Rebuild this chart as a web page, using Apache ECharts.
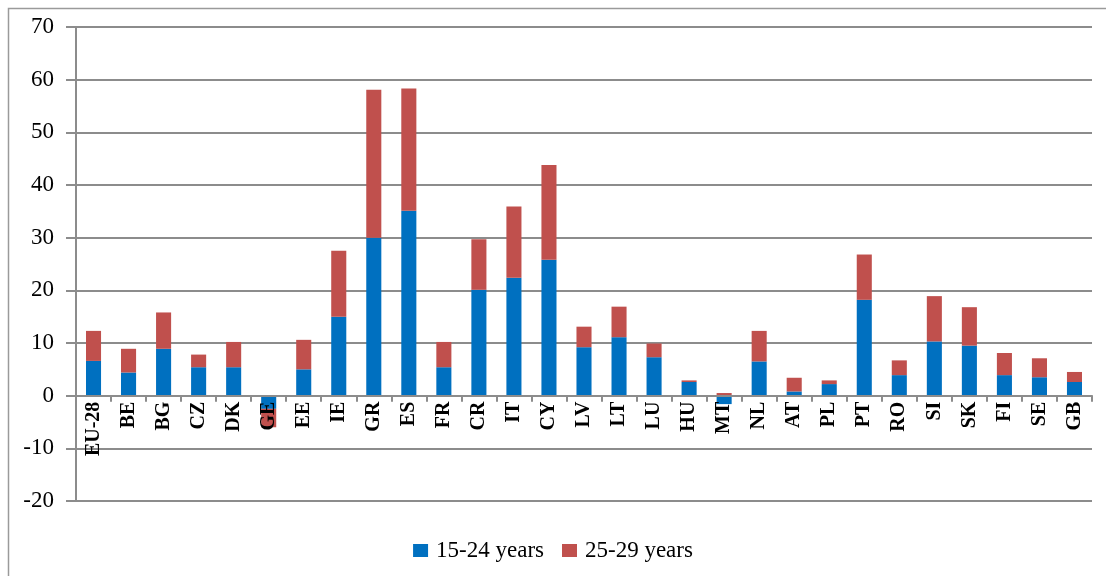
<!DOCTYPE html>
<html>
<head>
<meta charset="utf-8">
<script src="https://cdn.jsdelivr.net/npm/echarts@6/dist/echarts.min.js"></script>
<style>
html,body{margin:0;padding:0;background:#fff;}
#chart{width:1106px;height:576px;}
</style>
</head>
<body>
<div id="chart"></div>
<script>
const categories = ['EU-28','BE','BG','CZ','DK','GE','EE','IE','GR','ES','FR','CR','IT','CY','LV','LT','LU','HU','MT','NL','AT','PL','PT','RO','SI','SK','FI','SE','GB'];
const years15to24 = [6.6,4.4,8.9,5.4,5.4,-2.5,5.0,15.0,30.0,35.1,5.4,20.1,22.4,25.8,9.2,11.1,7.3,2.6,-1.6,6.5,0.8,2.2,18.2,3.9,10.3,9.5,3.9,3.5,2.6];
const years25to29 = [5.7,4.5,6.9,2.4,4.8,-3.5,5.6,12.5,28.1,23.2,4.8,9.6,13.5,18.0,3.9,5.8,2.6,0.3,0.5,5.8,2.6,0.7,8.6,2.8,8.6,7.3,4.2,3.6,1.9];
const seriesNames = ['15-24 years','25-29 years'];
const yTicks = {min:-20, max:70, interval:10};

const font = 'Liberation Serif, Times New Roman, serif';
const W = 1106, H = 576;
const grid = {left:76, right:14, top:27, bottom:75};
const plotH = H - grid.top - grid.bottom;
// move the category axis (line, ticks and labels) up to the value 0
const zeroOffset = -plotH * (0 - yTicks.min) / (yTicks.max - yTicks.min);

const chart = echarts.init(document.getElementById('chart'));
chart.setOption({
  animation:false,
  backgroundColor:'#fff',
  graphic:[{type:'rect', shape:{x:8.5,y:8.5,width:1110,height:600}, style:{fill:'none', stroke:'#9a9a9a', lineWidth:1.5}, silent:true}],
  grid:Object.assign({containLabel:false}, grid),
  legend:{
    bottom:9, left:'center',
    itemWidth:15, itemHeight:13, itemGap:18,
    icon:'rect',
    textStyle:{fontFamily:font, fontSize:23, color:'#000', padding:[0,0,0,3]},
    data:seriesNames
  },
  xAxis:{
    type:'category', data:categories, z:5,
    position:'bottom', offset:zeroOffset,
    axisLine:{onZero:false, lineStyle:{color:'#8c8c8c', width:2}},
    axisTick:{show:true, length:6, lineStyle:{color:'#8c8c8c', width:2}},
    axisLabel:{rotate:90, margin:6, interval:0, fontFamily:font, fontWeight:'bold', fontSize:20, color:'#000'},
    splitLine:{show:false}
  },
  yAxis:{
    type:'value', min:yTicks.min, max:yTicks.max, interval:yTicks.interval,
    axisLine:{show:true, lineStyle:{color:'#8c8c8c', width:2}},
    axisTick:{show:true, length:10, lineStyle:{color:'#8c8c8c', width:2}},
    axisLabel:{margin:22, fontFamily:font, fontSize:23, color:'#000'},
    splitLine:{show:true, lineStyle:{color:'#8c8c8c', width:2}}
  },
  series:[
    {name:seriesNames[0], type:'bar', stack:'s', data:years15to24, barWidth:'43%', itemStyle:{color:'#0070C0'}},
    {name:seriesNames[1], type:'bar', stack:'s', data:years25to29, barWidth:'43%', itemStyle:{color:'#C0504D'}}
  ]
});
</script>
</body>
</html>
